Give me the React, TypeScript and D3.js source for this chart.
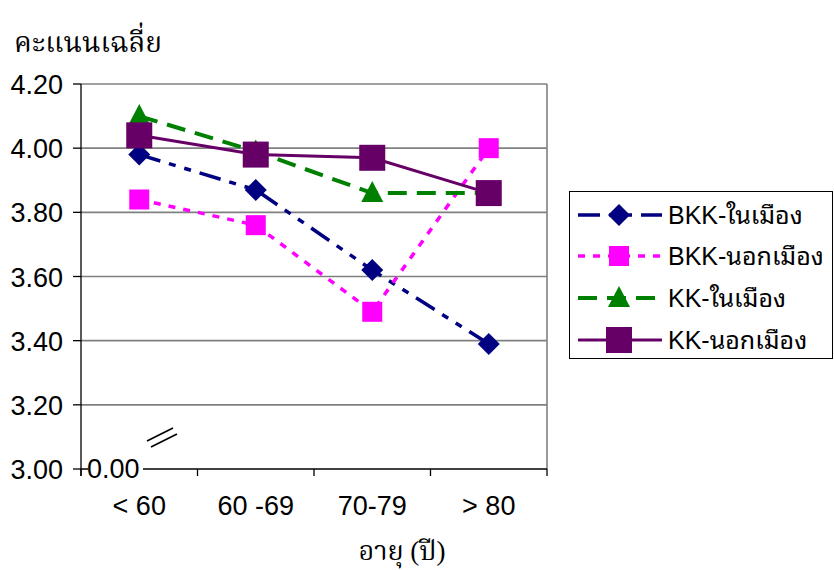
import React from "react";
import * as d3 from "d3";

const categories = ["< 60", "60 -69", "70-79", "> 80"];
const yTicks = [3.0, 3.2, 3.4, 3.6, 3.8, 4.0, 4.2];
const bkkIn = [3.98, 3.87, 3.62, 3.39];
const bkkOut = [3.84, 3.76, 3.49, 4.0];
const kkIn = [4.1, 3.99, 3.86, 3.86];
const kkOut = [4.04, 3.98, 3.97, 3.86];
const seriesNames = ["BKK-ในเมือง", "BKK-นอกเมือง", "KK-ในเมือง", "KK-นอกเมือง"];

type S = { name: string; values: number[]; color: string; dash: string; width: number; marker: string };
const series: S[] = [
  { name: seriesNames[0], values: bkkIn, color: "#000080", dash: "22,9,7,9,7,9", width: 3.5, marker: "diamond" },
  { name: seriesNames[1], values: bkkOut, color: "#FF00FF", dash: "7,8", width: 3.5, marker: "square" },
  { name: seriesNames[2], values: kkIn, color: "#008000", dash: "19,10", width: 4, marker: "triangle" },
  { name: seriesNames[3], values: kkOut, color: "#660066", dash: "", width: 3, marker: "bigsquare" },
];

const L = 81, R = 547, T = 84, B = 469;
const thaiFallback = "'Noto Sans Thai Looped', 'Noto Serif Thai', Garuda, Loma, Norasi";
const sansFont = `'Liberation Sans', Arial, ${thaiFallback}, sans-serif`;
const serifFont = `'Liberation Serif', 'Times New Roman', 'Noto Serif Thai', Norasi, ${thaiFallback}, serif`;

function Marker({ type, x, y, color }: { type: string; x: number; y: number; color: string }) {
  if (type === "diamond") {
    const s = 11;
    return <path d={`M${x},${y - s}L${x + s},${y}L${x},${y + s}L${x - s},${y}Z`} fill={color} />;
  }
  if (type === "square") return <rect x={x - 10} y={y - 10} width={20} height={20} fill={color} />;
  if (type === "bigsquare") return <rect x={x - 13} y={y - 13} width={26} height={26} fill={color} />;
  if (type === "triangle") return <path d={`M${x},${y - 12}L${x + 11},${y + 9}L${x - 11},${y + 9}Z`} fill={color} />;
  return null;
}

export default function App() {
  const x = d3.scaleBand<string>().domain(categories).range([L, R]);
  const y = d3.scaleLinear().domain([3.0, 4.2]).range([B, T]);
  const cx = (c: string) => (x(c) as number) + x.bandwidth() / 2;
  const line = d3.line<[number, number]>().x((d) => d[0]).y((d) => d[1]);

  const legendY = [215, 256, 298, 340];

  return (
    <svg width={834} height={570} style={{ position: "absolute", left: 0, top: 0, background: "#fff" }}>
      <text x={14} y={52} fontFamily={serifFont} fontSize={28} fill="#000">คะแนนเฉลี่ย</text>
      {/* gridlines */}
      {yTicks.filter((t) => t > 3.0).map((t) => (
        <line key={t} x1={L} x2={R} y1={y(t)} y2={y(t)} stroke="#808080" strokeWidth={1.6} />
      ))}
      <line x1={R} x2={R} y1={T} y2={B} stroke="#808080" strokeWidth={1.6} />
      {/* y axis */}
      <line x1={L} x2={L} y1={T} y2={476} stroke="#000" strokeWidth={1.3} />
      {yTicks.map((t) => (
        <g key={t}>
          <line x1={73} x2={L} y1={y(t)} y2={y(t)} stroke="#000" strokeWidth={1.3} />
          <text x={63} y={y(t) + 10} textAnchor="end" fontFamily={sansFont} fontSize={27} fill="#000">{t.toFixed(2)}</text>
        </g>
      ))}
      {/* x axis */}
      <line x1={L} x2={R} y1={B} y2={B} stroke="#000" strokeWidth={1.3} />
      {categories.map((c, i) => (
        <line key={"t" + i} x1={x(c) as number} x2={x(c) as number} y1={B} y2={476} stroke="#000" strokeWidth={1.3} />
      ))}
      <line x1={R} x2={R} y1={B} y2={476} stroke="#000" strokeWidth={1.3} />
      {categories.map((c) => (
        <text key={c} x={cx(c)} y={515} textAnchor="middle" fontFamily={sansFont} fontSize={27} fill="#000">{c}</text>
      ))}
      {/* 0.00 label and break */}
      <rect x={88} y={455} width={55} height={26} fill="#fff" />
      <text x={87} y={478} fontFamily={sansFont} fontSize={27} fill="#000">0.00</text>
      <line x1={147} y1={441} x2={173} y2={428} stroke="#000" strokeWidth={1.6} />
      <line x1={151} y1={447} x2={177} y2={434} stroke="#000" strokeWidth={1.6} />
      {/* series */}
      {series.map((s) => (
        <g key={s.name}>
          <path
            d={line(s.values.map((v, i) => [cx(categories[i]), y(v)] as [number, number])) || ""}
            fill="none"
            stroke={s.color}
            strokeWidth={s.width}
            strokeDasharray={s.dash || undefined}
          />
          {s.values.map((v, i) => (
            <Marker key={i} type={s.marker} x={cx(categories[i])} y={y(v)} color={s.color} />
          ))}
        </g>
      ))}
      {/* legend */}
      <rect x={569.5} y={191.5} width={263} height={167} fill="#fff" stroke="#000" strokeWidth={1} />
      {series.map((s, i) => (
        <g key={"lg" + i}>
          <line x1={578} x2={662} y1={legendY[i]} y2={legendY[i]} stroke={s.color} strokeWidth={s.width}
            strokeDasharray={s.dash || undefined} />
          <Marker type={s.marker} x={619} y={legendY[i]} color={s.color} />
          <text x={668} y={legendY[i] + 9} fontFamily={sansFont} fontSize={25} fill="#000">{s.name}</text>
        </g>
      ))}
      <text x={402} y={560} textAnchor="middle" fontFamily={serifFont} fontSize={27} fill="#000">อายุ (ปี)</text>
    </svg>
  );
}
